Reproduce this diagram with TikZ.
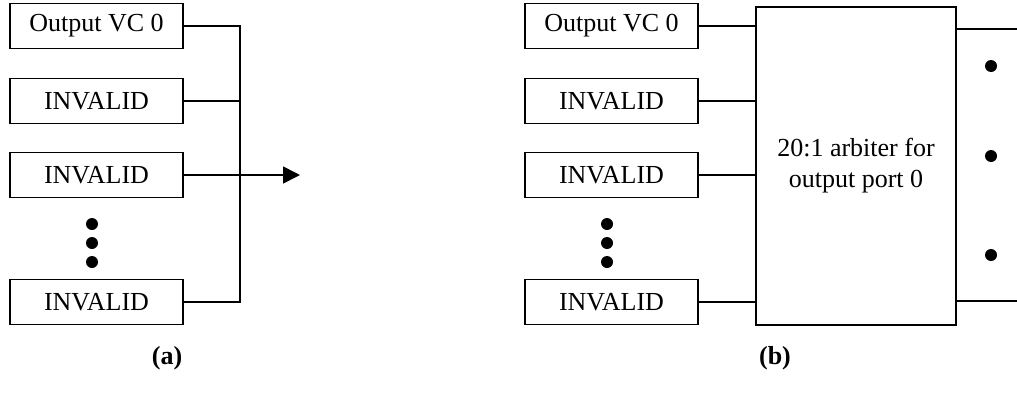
\documentclass[tikz,border=0pt]{standalone}
\usepackage{fontspec}
\setmainfont{Liberation Serif}
\usetikzlibrary{arrows.meta}
\begin{document}
\begin{tikzpicture}[x=1pt,y=-1pt,
  vcbox/.style={draw,line width=1.3pt,minimum width=173pt,minimum height=45pt,inner sep=0pt,
    font=\fontsize{26}{30}\selectfont},
  arbbox/.style={draw,line width=1.6pt,minimum width=200pt,minimum height=318pt,inner sep=0pt,
    align=center,font=\fontsize{26}{31}\selectfont},
  wire/.style={line width=1.6pt},
  vdot/.style={circle,fill,inner sep=0pt,minimum size=12pt},
  caption/.style={font=\fontsize{26}{30}\selectfont\bfseries}]
\useasboundingbox (0,0) rectangle (1017,394);

% (a) virtual channels merged onto one bus
\node[vcbox] (a1) at (96.5,26) {Output VC 0};
\node[vcbox] (a2) at (96.5,101) {INVALID};
\node[vcbox] (a3) at (96.5,175) {INVALID};
\node[vcbox] (a4) at (96.5,302) {INVALID};
\node[vdot] (ad1) at (92,224) {};
\node[vdot] (ad2) at (92,243) {};
\node[vdot] (ad3) at (92,262) {};
\coordinate (busT) at (240,26);
\coordinate (busB) at (240,302);
\coordinate (aout) at (300,175);
\draw[wire] (a1.east) -- (busT) -- (busB) -- (a4.east);
\draw[wire] (a2.east) -- (a2.east -| busT);
\draw[wire,-{Triangle[length=17pt,width=17pt]}] (a3.east) -- (aout);
\node[caption] (capa) at (167,358) {(a)};

% (b) virtual channels feeding the arbiter
\node[vcbox] (b1) at (611.5,26) {Output VC 0};
\node[vcbox] (b2) at (611.5,101) {INVALID};
\node[vcbox] (b3) at (611.5,175) {INVALID};
\node[vcbox] (b4) at (611.5,302) {INVALID};
\node[vdot] (bd1) at (607,224) {};
\node[vdot] (bd2) at (607,243) {};
\node[vdot] (bd3) at (607,262) {};
\node[arbbox] (arb) at (856,166) {20:1 arbiter for\\output port 0};
\draw[wire] (b1.east) -- (b1.east -| arb.west);
\draw[wire] (b2.east) -- (b2.east -| arb.west);
\draw[wire] (b3.east) -- (b3.east -| arb.west);
\draw[wire] (b4.east) -- (b4.east -| arb.west);
\coordinate (oT) at (1017,29);
\coordinate (oB) at (1017,301);
\draw[wire] (oT -| arb.east) -- (oT);
\draw[wire] (oB -| arb.east) -- (oB);
\node[vdot] (od1) at (991,66) {};
\node[vdot] (od2) at (991,156) {};
\node[vdot] (od3) at (991,255) {};
\node[caption] (capb) at (775,358) {(b)};
\end{tikzpicture}
\end{document}
